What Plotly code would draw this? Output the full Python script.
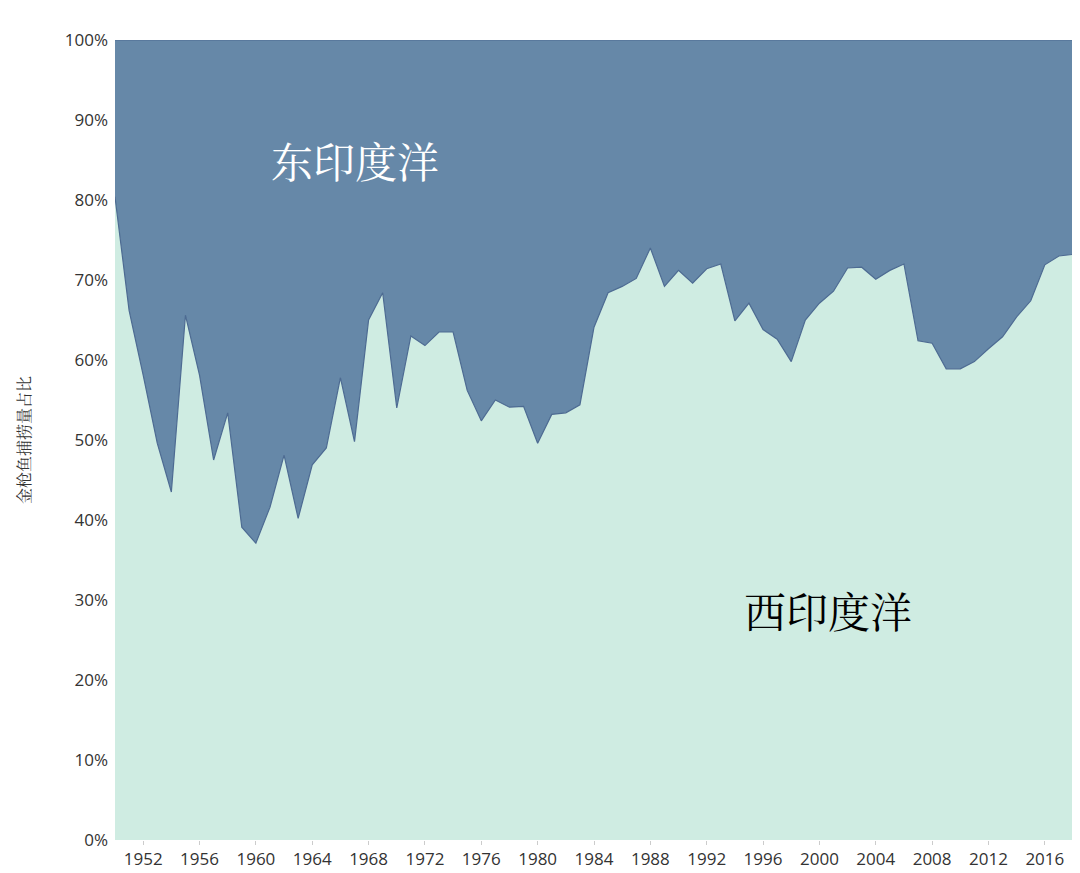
import plotly.graph_objects as go

years = list(range(1950, 2019))
west_pct = [80.4, 66.2, 58.1, 49.6, 43.5, 65.6, 58.1, 47.5, 53.4, 39.1,
            37.1, 41.6, 48.1, 40.2, 46.9, 49.0, 57.8, 49.8, 65.0, 68.4,
            54.0, 63.0, 61.8, 63.5, 63.5, 56.2, 52.4, 55.0, 54.1, 54.2,
            49.6, 53.2, 53.4, 54.4, 64.1, 68.4, 69.2, 70.2, 74.0, 69.2,
            71.2, 69.6, 71.4, 72.0, 64.9, 67.1, 63.8, 62.6, 59.8, 65.0,
            67.1, 68.6, 71.5, 71.6, 70.1, 71.2, 72.0, 62.4, 62.1, 58.9,
            58.9, 59.8, 61.4, 62.9, 65.4, 67.4, 71.9, 73.0, 73.2]
east_pct = [round(100 - w, 1) for w in west_pct]
y_ticks = list(range(0, 101, 10))

fig = go.Figure()
fig.add_trace(go.Scatter(x=years, y=west_pct, name="西印度洋", stackgroup="a",
                         mode="lines", line=dict(color="#4d6b92", width=1.2),
                         fillcolor="#cfece2"))
fig.add_trace(go.Scatter(x=years, y=east_pct, name="东印度洋", stackgroup="a",
                         mode="lines", line=dict(color="#4d6b92", width=1.2),
                         fillcolor="#6688a8"))

serif = "Noto Serif CJK SC, Noto Sans CJK SC, serif"
fig.add_annotation(x=1967.0, y=85, text="东印度洋", showarrow=False,
                   font=dict(family=serif, size=42, color="white"))
fig.add_annotation(x=2000.6, y=28.7, text="西印度洋", showarrow=False,
                   font=dict(family=serif, size=42, color="black"))

# page body has an 8px margin, so the margins are shifted to compensate
fig.update_layout(
    width=1080, height=873,
    margin=dict(l=107, r=15, t=32, b=41),
    paper_bgcolor="white", plot_bgcolor="white",
    showlegend=False,
    font=dict(family="Open Sans, sans-serif", size=17, color="#333"),
)
fig.update_xaxes(range=[1950, 2018], tickvals=list(range(1952, 2017, 4)),
                 showgrid=False, ticks="outside", ticklen=4, tickcolor="#ccc",
                 zeroline=False, automargin=False)
fig.update_yaxes(range=[0, 100], tickvals=y_ticks,
                 ticktext=[f"{v}%" for v in y_ticks], automargin=False,
                 showgrid=True, gridcolor="#eef2ee", ticklabelstandoff=6,
                 zeroline=False, layer="above traces",
                 title=dict(text="金枪鱼捕捞量占比", standoff=30,
                            font=dict(family=serif, size=16, color="#333")))

fig.write_html("out.html")
